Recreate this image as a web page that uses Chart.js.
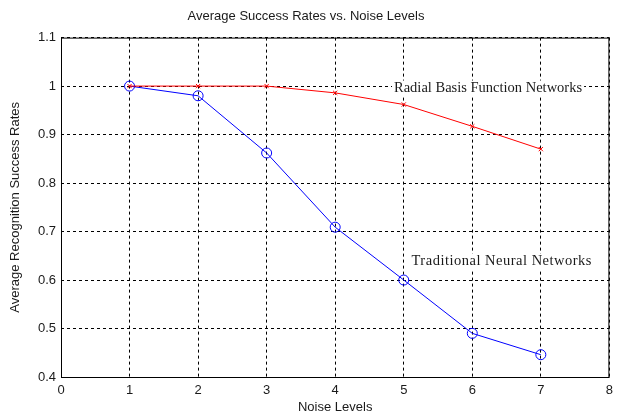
<!DOCTYPE html>
<html>
<head>
<meta charset="utf-8">
<script src="https://cdn.jsdelivr.net/npm/chart.js@4/dist/chart.umd.min.js"></script>
<style>
  html, body { margin: 0; padding: 0; background: #fff; }
  #wrap { width: 619px; height: 417px; }
</style>
</head>
<body>
<div id="wrap"><canvas id="myChart" width="619" height="417"></canvas></div>
<script>
// values
const noiseLevels = [1, 2, 3, 4, 5, 6, 7]
const rbfRates = [1.0, 1.0, 1.0, 0.986, 0.962, 0.917, 0.87]
const tnnRates = [1.0, 0.98, 0.862, 0.709, 0.6, 0.49, 0.446]
const xTicks = [0, 1, 2, 3, 4, 5, 6, 7, 8]
const yTicks = [0.4, 0.5, 0.6, 0.7, 0.8, 0.9, 1, 1.1]

const toPoints = (xs, ys) => xs.map((x, i) => ({ x: x, y: ys[i] }))

// text notes placed in data coordinates
const notes = [
    { text: 'Radial Basis Function Networks', x: 6.23, y: 0.995, spacing: '0px' },
    { text: 'Traditional Neural Networks', x: 6.43, y: 0.638, spacing: '0.5px' }
]

// notes sit on a white box (hides the grid), drawn before the lines
const notesPlugin = {
    id: 'notes',
    beforeDatasetsDraw(chart) {
        const { ctx, scales } = chart
        ctx.save()
        ctx.font = '14.5px "Liberation Serif", "Times New Roman", serif'
        ctx.textAlign = 'center'
        ctx.textBaseline = 'middle'
        for (const n of notes) {
            ctx.letterSpacing = n.spacing
            const px = scales.x.getPixelForValue(n.x)
            const py = scales.y.getPixelForValue(n.y)
            const w = ctx.measureText(n.text).width
            ctx.fillStyle = '#fff'
            ctx.fillRect(px - w / 2 - 2, py - 8, w + 4, 16)
            ctx.fillStyle = '#1a1a1a'
            ctx.fillText(n.text, px, py)
        }
        ctx.restore()
    },
    afterDatasetsDraw(chart) {
        const { ctx, chartArea } = chart
        ctx.save()
        ctx.strokeStyle = '#000'
        ctx.lineWidth = 1
        ctx.strokeRect(chartArea.left + 0.5, chartArea.top + 0.5,
            chartArea.right - chartArea.left - 1, chartArea.bottom - chartArea.top)
        ctx.restore()
    }
}

const font = { family: '"Liberation Sans", Arial, sans-serif', size: 13, weight: 'normal' }

new Chart(document.getElementById('myChart').getContext('2d'), {
    type: 'line',
    data: {
        datasets: [
            {
                label: 'Radial Basis Function Networks',
                data: toPoints(noiseLevels, rbfRates),
                borderColor: '#ff0000',
                backgroundColor: '#ff0000',
                borderWidth: 1,
                pointStyle: 'crossRot',
                pointRadius: 3,
                pointBorderWidth: 1,
                order: 1
            },
            {
                label: 'Traditional Neural Networks',
                data: toPoints(noiseLevels, tnnRates),
                borderColor: '#0000ff',
                backgroundColor: 'rgba(0,0,0,0)',
                borderWidth: 1,
                pointStyle: 'circle',
                pointRadius: 5,
                pointBorderWidth: 1,
                order: 2
            }
        ]
    },
    options: {
        responsive: false,
        animation: false,
        layout: { padding: { left: 0, right: 7, top: 0, bottom: 0 } },
        plugins: {
            legend: { display: false },
            tooltip: { enabled: false },
            title: {
                display: true,
                text: 'Average Success Rates vs. Noise Levels',
                color: '#1a1a1a',
                font: font,
                padding: { top: 9, bottom: 13 }
            }
        },
        scales: {
            x: {
                type: 'linear',
                min: 0,
                max: 8,
                afterBuildTicks: s => { s.ticks = xTicks.map(v => ({ value: v })) },
                afterFit: s => { s.height = 40 },
                ticks: { color: '#1a1a1a', font: font, padding: 6, maxRotation: 0 },
                grid: { color: '#000', drawTicks: false, lineWidth: 1 },
                border: { display: false, dash: [3, 3] },
                title: {
                    display: true,
                    text: 'Noise Levels',
                    color: '#1a1a1a',
                    font: font,
                    padding: { top: 0, bottom: 2 }
                }
            },
            y: {
                type: 'linear',
                min: 0.4,
                max: 1.1,
                afterBuildTicks: s => { s.ticks = yTicks.map(v => ({ value: v })) },
                afterFit: s => { s.width = 61 },
                ticks: {
                    color: '#1a1a1a',
                    font: font,
                    padding: 5,
                    callback: v => String(Math.round(v * 10) / 10)
                },
                grid: { color: '#000', drawTicks: false, lineWidth: 1 },
                border: { display: false, dash: [3, 3] },
                title: {
                    display: true,
                    text: 'Average Recognition Success Rates',
                    color: '#1a1a1a',
                    font: font,
                    padding: { top: 8, bottom: 0 }
                }
            }
        }
    },
    plugins: [notesPlugin]
})
</script>
</body>
</html>
